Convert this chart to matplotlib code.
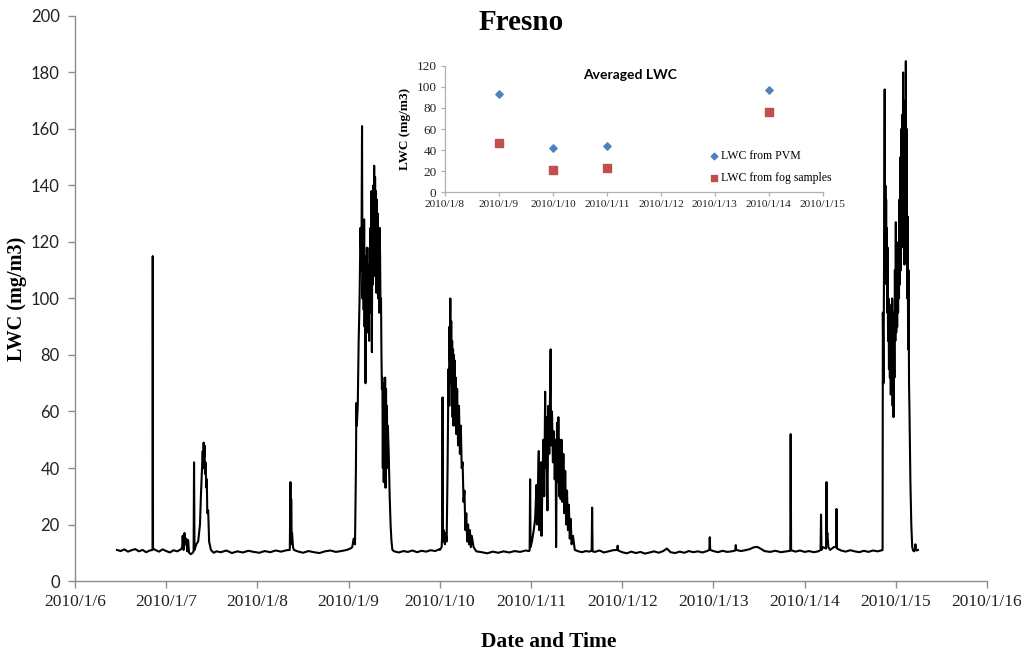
import datetime as dt
import numpy as np
import matplotlib
matplotlib.use("Agg")
import matplotlib.pyplot as plt
import matplotlib.dates as mdates
from matplotlib.ticker import FuncFormatter, MultipleLocator

# LWC record, day of January 2010 (fractional) and value in mg/m3
t_a = [6.46, 6.50, 6.54, 6.58, 6.62, 6.66, 6.70, 6.74, 6.78, 6.82, 6.850, 6.852, 6.855,
       6.88, 6.92, 6.96, 7.00, 7.04, 7.08, 7.12, 7.16]
v_a = [11.0, 10.6, 11.2, 10.4, 10.9, 11.3, 10.5, 11.0, 10.2, 10.8, 11.0, 115, 11.5,
       11.0, 10.4, 11.2, 10.6, 10.1, 10.9, 10.5, 11.2]

t_b = [7.175, 7.18, 7.19, 7.20, 7.21, 7.22, 7.23, 7.24, 7.25, 7.27, 7.29, 7.30, 7.305,
       7.31, 7.33, 7.35, 7.37, 7.38, 7.39, 7.40, 7.405, 7.41, 7.415, 7.42, 7.425, 7.43,
       7.44, 7.445, 7.45, 7.46, 7.47, 7.49, 7.52, 7.55]
v_b = [12, 16, 11, 17, 13, 15, 10.5, 14.5, 10, 9.5, 10, 10.5, 42,
       11, 13, 14, 20, 30, 38, 46, 40, 49, 44, 48, 38, 42,
       33, 36, 24, 25, 14, 11, 10, 10.5]

t_c = [7.60, 7.66, 7.72, 7.78, 7.84, 7.90, 7.96, 8.02, 8.08, 8.14, 8.20, 8.26, 8.32,
       8.355, 8.362, 8.366, 8.37, 8.375, 8.38, 8.39, 8.40, 8.44, 8.50, 8.56, 8.62, 8.68,
       8.74, 8.80, 8.86, 8.92, 8.98, 9.02]
v_c = [10.2, 10.8, 9.9, 10.5, 10.1, 10.7, 10.3, 10.0, 10.6, 10.2, 10.8, 10.4, 10.9,
       11, 35, 13, 29, 16, 17, 12, 11, 10.5, 10.0, 10.6, 10.2, 9.9,
       10.5, 10.8, 10.3, 10.6, 11.0, 11.5]

t_d = [9.04, 9.055, 9.07, 9.08, 9.085, 9.09, 9.10, 9.11, 9.12, 9.13, 9.14, 9.147, 9.152,
       9.16, 9.165, 9.17, 9.175, 9.18, 9.185, 9.19, 9.195, 9.20, 9.205, 9.21, 9.215, 9.22,
       9.225, 9.23, 9.235, 9.24, 9.245, 9.25, 9.255, 9.26, 9.265, 9.27, 9.275, 9.28, 9.285,
       9.29, 9.295, 9.30, 9.305, 9.31, 9.315, 9.32, 9.325, 9.33, 9.335, 9.34, 9.345, 9.35,
       9.355, 9.36, 9.365, 9.37, 9.375, 9.38, 9.385, 9.39, 9.395, 9.40, 9.405, 9.41, 9.415,
       9.42, 9.425, 9.43, 9.44, 9.45, 9.46, 9.47, 9.48, 9.50]
v_d = [12, 15, 13, 40, 63, 55, 62, 85, 100, 125, 110, 161, 100,
       120, 96, 128, 90, 115, 70, 105, 95, 118, 88, 112, 98, 106,
       85, 118, 100, 125, 95, 138, 81, 130, 105, 140, 110, 147, 108,
       143, 115, 138, 102, 135, 108, 130, 100, 120, 95, 125, 115, 95,
       100, 80, 68, 72, 40, 70, 35, 66, 45, 72, 33, 68, 45,
       62, 40, 55, 45, 30, 20, 14, 11, 10.5]

t_e = [9.55, 9.60, 9.65, 9.70, 9.75, 9.80, 9.85, 9.90, 9.95, 9.99]
v_e = [10.1, 10.6, 10.3, 10.8, 10.2, 10.7, 10.4, 10.9, 10.6, 11.2]

t_f = [10.00, 10.02, 10.025, 10.03, 10.035, 10.045, 10.055, 10.065, 10.075, 10.085,
       10.095, 10.10, 10.105, 10.11, 10.115, 10.12, 10.125, 10.13, 10.135, 10.14, 10.145,
       10.15, 10.155, 10.16, 10.165, 10.17, 10.175, 10.18, 10.19, 10.20, 10.21, 10.22,
       10.23, 10.24, 10.25, 10.26, 10.27, 10.28, 10.29, 10.30, 10.31, 10.32, 10.33, 10.34,
       10.35, 10.37, 10.40]
v_f = [11, 12, 16, 65, 14, 18, 13, 17, 14, 40,
       75, 62, 90, 78, 100, 70, 92, 62, 85, 58, 82,
       55, 80, 60, 78, 55, 72, 52, 68, 48, 62, 45,
       55, 40, 42, 28, 32, 18, 24, 14, 20, 13, 18, 12,
       16, 12, 10.5]

t_g = [10.46, 10.52, 10.58, 10.64, 10.70, 10.76, 10.82, 10.88, 10.94, 10.98]
v_g = [10.2, 9.8, 10.4, 10.0, 10.5, 10.1, 10.6, 10.3, 10.8, 10.6]

t_h = [10.985, 10.99, 10.995, 11.01, 11.03, 11.045, 11.06, 11.065, 11.075, 11.085, 11.09,
       11.10, 11.11, 11.115, 11.125, 11.135, 11.145, 11.155, 11.16, 11.17, 11.175, 11.18,
       11.19, 11.20, 11.21, 11.215, 11.22, 11.23, 11.24, 11.25, 11.26, 11.27, 11.275,
       11.285, 11.29, 11.30, 11.31, 11.315, 11.325, 11.335, 11.345, 11.355, 11.365, 11.375,
       11.385, 11.395, 11.405, 11.415, 11.425, 11.435, 11.445, 11.46, 11.48, 11.52]
v_h = [11, 36, 12, 14, 18, 22, 34, 20, 30, 46, 18,
       38, 42, 16, 35, 50, 30, 67, 40, 58, 35, 25,
       62, 45, 70, 82, 48, 60, 42, 53, 36, 50, 12,
       56, 35, 58, 30, 50, 29, 50, 28, 45, 24, 39,
       20, 32, 18, 27, 15, 22, 13, 16, 11, 10.5]

t_i = [11.56, 11.60, 11.64, 11.665, 11.67, 11.675, 11.70, 11.75, 11.80, 11.85, 11.90,
       11.945, 11.95, 11.955, 12.00, 12.05, 12.10, 12.15, 12.20, 12.25, 12.30, 12.35,
       12.40, 12.45, 12.49, 12.53, 12.58, 12.63, 12.68, 12.73, 12.78, 12.83, 12.88, 12.93,
       12.955, 12.96, 12.965, 13.00, 13.05, 13.10, 13.15, 13.20, 13.24, 13.245, 13.25,
       13.30, 13.35, 13.40, 13.44, 13.48, 13.52, 13.56, 13.62, 13.68, 13.74, 13.80,
       13.843, 13.847, 13.852, 13.90, 13.95, 14.00, 14.05, 14.10, 14.15, 14.175, 14.18,
       14.185, 14.20, 14.235, 14.24, 14.245, 14.25, 14.26, 14.28, 14.30, 14.32, 14.345,
       14.35, 14.355, 14.40, 14.45, 14.50, 14.55, 14.60, 14.65, 14.70, 14.75, 14.80, 14.85]
v_i = [10.2, 10.6, 10.4, 10.8, 26, 10.5, 10.3, 10.8, 10.1, 10.5, 10.9,
       11, 12.5, 10.8, 10.2, 9.8, 10.4, 9.9, 10.3, 9.7, 10.1, 10.5,
       10.0, 10.6, 11.5, 10.2, 9.9, 10.4, 10.0, 10.6, 10.2, 10.5, 10.1, 10.6,
       11, 15.5, 11, 10.6, 10.2, 10.7, 10.3, 10.5, 10.8, 12.7, 11,
       10.6, 10.9, 11.3, 11.9, 12.1, 11.4, 10.6, 10.3, 10.7, 10.2, 10.5,
       10.7, 52, 10.9, 10.4, 10.8, 10.3, 10.6, 10.2, 10.5, 11, 23.5,
       11, 12, 11.5, 35, 16, 17, 12, 11, 11.5, 12, 12,
       25.5, 11.5, 10.8, 10.4, 10.9, 10.5, 10.2, 10.7, 10.3, 10.8, 10.5, 10.9]

t_j = [14.855, 14.858, 14.865, 14.872, 14.878, 14.882, 14.886, 14.89, 14.894, 14.898,
       14.902, 14.906, 14.91, 14.915, 14.92, 14.925, 14.93, 14.935, 14.94, 14.945, 14.95,
       14.955, 14.96, 14.965, 14.97, 14.975, 14.98, 14.985, 14.99, 14.995, 15.00, 15.005,
       15.01, 15.015, 15.02, 15.025, 15.03, 15.035, 15.04, 15.045, 15.05, 15.055, 15.06,
       15.065, 15.07, 15.075, 15.08, 15.085, 15.09, 15.095, 15.10, 15.105, 15.11, 15.115,
       15.12, 15.125, 15.13, 15.135, 15.14, 15.145, 15.15, 15.16, 15.17, 15.18, 15.19,
       15.20, 15.21, 15.215, 15.22, 15.23, 15.243]
v_j = [11, 95, 70, 120, 174, 110, 140, 112, 135, 105,
       125, 95, 118, 85, 100, 75, 98, 72, 95, 66, 90,
       70, 100, 62, 85, 58, 95, 72, 110, 85, 127, 88,
       105, 90, 115, 95, 120, 100, 135, 105, 150, 110, 160,
       118, 165, 120, 180, 125, 168, 112, 170, 130, 184, 115,
       160, 100, 129, 82, 110, 70, 60, 35, 20, 12, 10.8,
       10.5, 11, 13, 11, 10.8, 11]

# averaged LWC per fog episode
avg_days = [9, 10, 11, 14]
avg_pvm = [93, 42, 44, 97]
avg_fog = [47, 21, 23, 76]

main_ticks = list(range(6, 17))
inset_ticks = list(range(8, 16))

jan1 = mdates.date2num(dt.datetime(2010, 1, 1))


def to_num(days):
    return jan1 + np.asarray(days, dtype=float) - 1


def date_label(x, pos):
    d = mdates.num2date(x)
    return f"{d.year}/{d.month}/{d.day}"


days = np.concatenate([t_a, t_b, t_c, t_d, t_e, t_f, t_g, t_h, t_i, t_j])
lwc = np.concatenate([v_a, v_b, v_c, v_d, v_e, v_f, v_g, v_h, v_i, v_j])

serif = "Liberation Serif"
sans = "Lato"
grey = "#8c8c8c"

fig = plt.figure(figsize=(10.21, 6.54), dpi=100)
ax = fig.add_axes([0.0735, 0.1116, 0.8932, 0.8640])
ax.plot(to_num(days), lwc, color="black", lw=1.5)

ax.set_xlim(to_num(6), to_num(16))
ax.set_ylim(0, 200)
ax.set_xticks(to_num(main_ticks))
ax.xaxis.set_major_formatter(FuncFormatter(date_label))
ax.yaxis.set_major_locator(MultipleLocator(20))
for s in ["top", "right"]:
    ax.spines[s].set_visible(False)
for s in ["left", "bottom"]:
    ax.spines[s].set_color(grey)
    ax.spines[s].set_linewidth(1.0)
ax.tick_params(axis="both", colors=grey, length=5, width=1.0)
ax.tick_params(axis="x", labelcolor="#222222", pad=4)
ax.tick_params(axis="y", labelcolor="#222222", pad=6)
for lbl in ax.get_xticklabels():
    lbl.set_fontfamily(serif)
    lbl.set_fontsize(12.5)
for lbl in ax.get_yticklabels():
    lbl.set_fontfamily(sans)
    lbl.set_fontsize(12)

ax.set_ylabel("LWC (mg/m3)", fontfamily=serif, fontweight="bold", fontsize=14.5, labelpad=3)
fig.text(0.537, 0.019, "Date and Time", fontfamily=serif, fontweight="bold",
         fontsize=15.5, ha="center", va="center")
fig.text(0.510, 0.966, "Fresno", fontfamily=serif, fontweight="bold",
         fontsize=21, ha="center", va="center")

# inset with averaged values
ins = fig.add_axes([0.4358, 0.7064, 0.3702, 0.1927])
ins.scatter(to_num(avg_days), avg_pvm, marker="D", s=14, color="#4f81bd",
            label="LWC from PVM", zorder=3)
ins.scatter(to_num(avg_days), avg_fog, marker="s", s=30, color="#c0504d",
            label="LWC from fog samples", zorder=3)
ins.set_xlim(to_num(8), to_num(15))
ins.set_ylim(0, 120)
ins.set_xticks(to_num(inset_ticks))
ins.xaxis.set_major_formatter(FuncFormatter(date_label))
ins.yaxis.set_major_locator(MultipleLocator(20))
for s in ["top", "right"]:
    ins.spines[s].set_visible(False)
for s in ["left", "bottom"]:
    ins.spines[s].set_color("#b0b0b0")
    ins.spines[s].set_linewidth(0.9)
ins.tick_params(axis="both", colors="#b0b0b0", length=3, width=0.9, pad=3)
ins.tick_params(axis="both", labelcolor="#222222")
for lbl in ins.get_xticklabels():
    lbl.set_fontfamily(serif)
    lbl.set_fontsize(8.2)
for lbl in ins.get_yticklabels():
    lbl.set_fontfamily(serif)
    lbl.set_fontsize(9.5)
ins.set_ylabel("LWC (mg/m3)", fontfamily=serif, fontweight="bold", fontsize=9.5, labelpad=4)
ins.text(0.49, 0.93, "Averaged LWC", transform=ins.transAxes, fontfamily=sans,
         fontweight="bold", fontsize=10, ha="center", va="center")
ins.legend(loc="lower right", bbox_to_anchor=(1.05, -0.02), frameon=False,
           prop={"family": serif, "size": 8.5}, handletextpad=0.1,
           markerscale=0.9, labelspacing=0.8, handlelength=1.0)

fig.savefig("out.png", dpi=100)
